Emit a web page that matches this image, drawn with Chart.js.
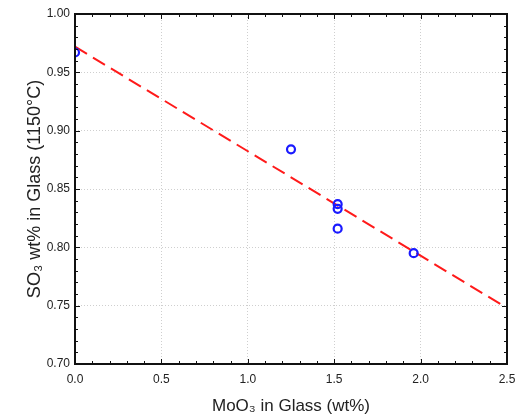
<!DOCTYPE html>
<html>
<head>
<meta charset="utf-8">
<script src="https://cdn.jsdelivr.net/npm/chart.js@4/dist/chart.umd.min.js"></script>
<style>
  html, body { margin: 0; padding: 0; background: #fff; }
  #wrap { width: 527px; height: 417px; }
</style>
</head>
<body>
<div id="wrap"><canvas id="so3-chart"></canvas></div>
<script>
// MoO3 content vs. SO3 retention in glass at 1150 C
var moo3 = [0.0, 1.25, 1.52, 1.52, 1.52, 1.96];
var so3 = [0.967, 0.884, 0.837, 0.833, 0.816, 0.795];

// linear fit end points
var fitX = [0.0, 2.5];
var fitY = [0.972, 0.748];

var xTicks = [0.0, 0.5, 1.0, 1.5, 2.0, 2.5];
var yTicks = [0.70, 0.75, 0.80, 0.85, 0.90, 0.95, 1.00];

var pts = moo3.map(function (x, i) { return {x: x, y: so3[i]}; });
var fit = fitX.map(function (x, i) { return {x: x, y: fitY[i]}; });

// frame + inward ticks on all four sides
var frame = {
    id: 'frame',
    afterDatasetsDraw: function (chart) {
        var c = chart.ctx, a = chart.chartArea;
        var sx = chart.scales.x, sy = chart.scales.y;
        c.save();
        c.strokeStyle = '#111';
        c.lineWidth = 1;
        var v, p, len;
        for (var i = 0; i <= 25; i++) {
            v = i / 10;
            p = Math.round(sx.getPixelForValue(v)) + 0.5;
            len = (i % 5 === 0) ? 5 : 3;
            c.beginPath();
            c.moveTo(p, a.bottom); c.lineTo(p, a.bottom - len);
            c.moveTo(p, a.top); c.lineTo(p, a.top + len);
            c.stroke();
        }
        for (var j = 0; j <= 30; j++) {
            v = 0.70 + j / 100;
            p = Math.round(sy.getPixelForValue(v)) + 0.5;
            len = (j % 5 === 0) ? 5 : 3;
            c.beginPath();
            c.moveTo(a.left, p); c.lineTo(a.left + len, p);
            c.moveTo(a.right, p); c.lineTo(a.right - len, p);
            c.stroke();
        }
        c.lineWidth = 2;
        c.strokeRect(a.left, a.top, a.right - a.left, a.bottom - a.top);
        c.restore();
    }
};

Chart.defaults.font.family = "'Liberation Sans', Arial, sans-serif";
Chart.defaults.color = '#222';

var ctx = document.getElementById('so3-chart').getContext('2d');
var chart = new Chart(ctx, {
    type: 'scatter',
    data: {
        datasets: [{
            label: 'fit',
            data: fit,
            showLine: true,
            borderColor: '#ff1a1a',
            borderWidth: 2,
            borderDash: [14, 7],
            pointRadius: 0,
            order: 2
        }, {
            label: 'SO3',
            data: pts,
            pointStyle: 'circle',
            pointRadius: 4,
            pointBorderWidth: 2.2,
            pointBorderColor: '#1a1aff',
            pointBackgroundColor: 'rgba(0,0,0,0)',
            order: 1
        }]
    },
    options: {
        responsive: true,
        maintainAspectRatio: false,
        animation: false,
        layout: {padding: {top: 14, right: 20, left: 24, bottom: 0}},
        plugins: {legend: {display: false}, tooltip: {enabled: false}},
        scales: {
            x: {
                type: 'linear',
                min: 0, max: 2.5,
                afterBuildTicks: function (s) { s.ticks = xTicks.map(function (v) { return {value: v}; }); },
                afterFit: function (s) { s.height = 53; },
                grid: {color: '#cfcfcf', drawTicks: false, lineWidth: 1},
                border: {display: false, dash: [1, 2]},
                ticks: {
                    padding: 8,
                    font: {size: 12},
                    callback: function (v) { return v.toFixed(1); }
                },
                title: {
                    display: true,
                    text: 'MoO₃ in Glass (wt%)',
                    font: {size: 17},
                    padding: {top: 5, bottom: 0}
                }
            },
            y: {
                type: 'linear',
                min: 0.70, max: 1.00,
                afterBuildTicks: function (s) { s.ticks = yTicks.map(function (v) { return {value: v}; }); },
                afterFit: function (s) { s.width = 51; },
                grid: {color: '#cfcfcf', drawTicks: false, lineWidth: 1},
                border: {display: false, dash: [1, 2]},
                ticks: {
                    padding: 5,
                    font: {size: 12},
                    callback: function (v) { return v.toFixed(2); }
                },
                title: {
                    display: true,
                    text: 'SO₃ wt% in Glass (1150°C)',
                    font: {size: 18},
                    padding: {top: 0, bottom: 0}
                }
            }
        }
    },
    plugins: [frame]
});
</script>
</body>
</html>
